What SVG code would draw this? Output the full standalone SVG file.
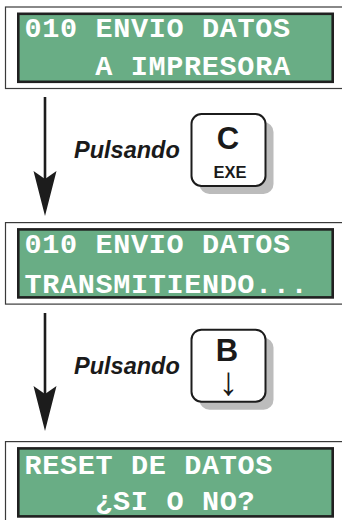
<svg xmlns="http://www.w3.org/2000/svg" width="342" height="520" viewBox="0 0 342 520">
  <style>
    .frame { fill: #ffffff; stroke: #3a3a3a; stroke-width: 1.2; }
    .lcd { fill: #69ad85; stroke: #202020; stroke-width: 2.6; }
    .lcdtxt { font-family: "Liberation Mono", "Courier New", monospace; font-weight: bold; font-size: 28.5px; fill: #ffffff; }
    .shaft { stroke: #1c1c1c; stroke-width: 2.6; fill: none; marker-end: url(#head); }
    .cap { fill: #ffffff; stroke: #1c1c1c; stroke-width: 2; }
    .shadow { fill: #bcbcbc; }
    .label { font-family: "Liberation Sans", Arial, sans-serif; font-weight: bold; font-style: italic; font-size: 23.5px; fill: #1a1a1a; }
    .keybig { font-family: "Liberation Sans", Arial, sans-serif; font-weight: bold; font-size: 31px; text-anchor: middle; fill: #1a1a1a; }
    .keysmall { font-family: "Liberation Sans", Arial, sans-serif; font-weight: bold; font-size: 16.5px; text-anchor: middle; fill: #1a1a1a; }
    .keyarrow { font-family: "Liberation Sans", "DejaVu Sans", sans-serif; font-size: 40px; text-anchor: middle; fill: #1a1a1a; }
  </style>
  <defs>
    <!-- barbed arrowhead; the shaft ends at the notch -->
    <marker id="head" markerUnits="userSpaceOnUse" viewBox="-10 -13 50 26" refX="0" refY="0" markerWidth="50" markerHeight="26" orient="auto">
      <path d="M0,0 L-8,-11.5 L37,0 L-8,11.5 Z" fill="#1c1c1c"/>
    </marker>
  </defs>

  <!-- display 1 -->
  <g id="display-envio-impresora">
    <rect class="frame" x="5.5" y="7" width="345" height="81.5"/>
    <rect class="lcd" x="18.3" y="13.8" width="314.4" height="68"/>
    <text class="lcdtxt" x="24.5" y="37" textLength="265.5" lengthAdjust="spacing">010 ENVIO DATOS</text>
    <text class="lcdtxt" x="95.3" y="75" textLength="194.7" lengthAdjust="spacing">A IMPRESORA</text>
  </g>

  <!-- display 2 -->
  <g id="display-transmitiendo">
    <rect class="frame" x="5.5" y="222.6" width="345" height="81.5"/>
    <rect class="lcd" x="18.3" y="229.4" width="314.4" height="68"/>
    <text class="lcdtxt" x="24.5" y="253" textLength="265.5" lengthAdjust="spacing">010 ENVIO DATOS</text>
    <text class="lcdtxt" x="24.5" y="292.5" textLength="283.2" lengthAdjust="spacing">TRANSMITIENDO...</text>
  </g>

  <!-- display 3 -->
  <g id="display-reset">
    <rect class="frame" x="5.5" y="441.6" width="345" height="81.5"/>
    <rect class="lcd" x="18.3" y="448.4" width="314.4" height="68"/>
    <text class="lcdtxt" x="24.5" y="473.5" textLength="247.8" lengthAdjust="spacing">RESET DE DATOS</text>
    <text class="lcdtxt" x="95.3" y="510" textLength="159.3" lengthAdjust="spacing">¿SI O NO?</text>
  </g>

  <!-- key C / EXE -->
  <g id="key-c-exe">
    <rect class="shadow" x="199.5" y="122" width="74" height="72" rx="10"/>
    <rect class="cap" x="191.5" y="114" width="74" height="72" rx="10"/>
    <text class="keybig" x="228" y="148.5">C</text>
    <text class="keysmall" x="230" y="178">EXE</text>
  </g>

  <!-- key B / down -->
  <g id="key-b-down">
    <rect class="shadow" x="199.5" y="337.7" width="74" height="72" rx="10"/>
    <rect class="cap" x="191.5" y="329.7" width="74" height="72" rx="10"/>
    <text class="keybig" x="227" y="360.5">B</text>
    <text class="keyarrow" x="228.5" y="395">↓</text>
  </g>

  <!-- connectors -->
  <g id="connectors">
    <line class="shaft" x1="45" y1="97" x2="45" y2="179"/>
    <line class="shaft" x1="45" y1="313" x2="45" y2="394"/>
    <text class="label" x="74" y="158.3">Pulsando</text>
    <text class="label" x="74" y="374">Pulsando</text>
  </g>
</svg>
